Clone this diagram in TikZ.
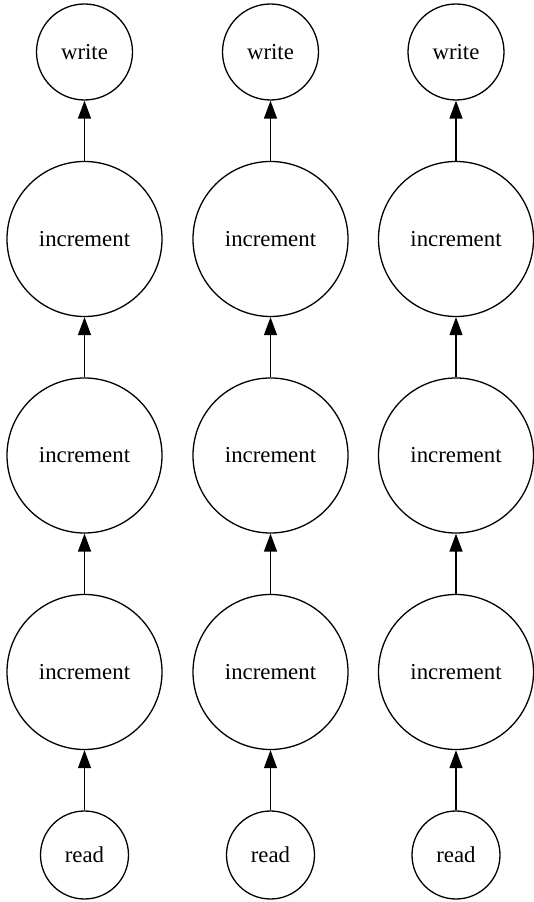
\documentclass[tikz,border=0pt]{standalone}
\usepackage{fontspec}
\setmainfont{Liberation Serif}
\usetikzlibrary{positioning, arrows.meta}

\begin{document}
\begin{tikzpicture}[x = 1pt, y = 1pt, node distance = 60.2pt,
    op/.style = {shape = circle, draw, line width = 1.3pt, inner sep = 0pt, font = \fontsize{22.8}{26}\selectfont},
    edge/.style = {line width = 1.3pt, -{Triangle[length = 18pt, width = 13pt]}}]
    \useasboundingbox (0,0) rectangle (534,902);
    \foreach \c/\x in {1/84.5, 2/270.5, 3/456}{
        \node[op, minimum size = 88pt] (R\c) at (\x,47) {read};
        \node[op, minimum size = 155pt, above = of R\c] (A\c) {increment};
        \node[op, minimum size = 155pt, above = of A\c] (B\c) {increment};
        \node[op, minimum size = 155pt, above = of B\c] (C\c) {increment};
        \node[op, minimum size = 96pt, above = of C\c] (W\c) {write};
        \draw[edge] (R\c) -- (A\c);
        \draw[edge] (A\c) -- (B\c);
        \draw[edge] (B\c) -- (C\c);
        \draw[edge] (C\c) -- (W\c);
    }
\end{tikzpicture}
\end{document}
